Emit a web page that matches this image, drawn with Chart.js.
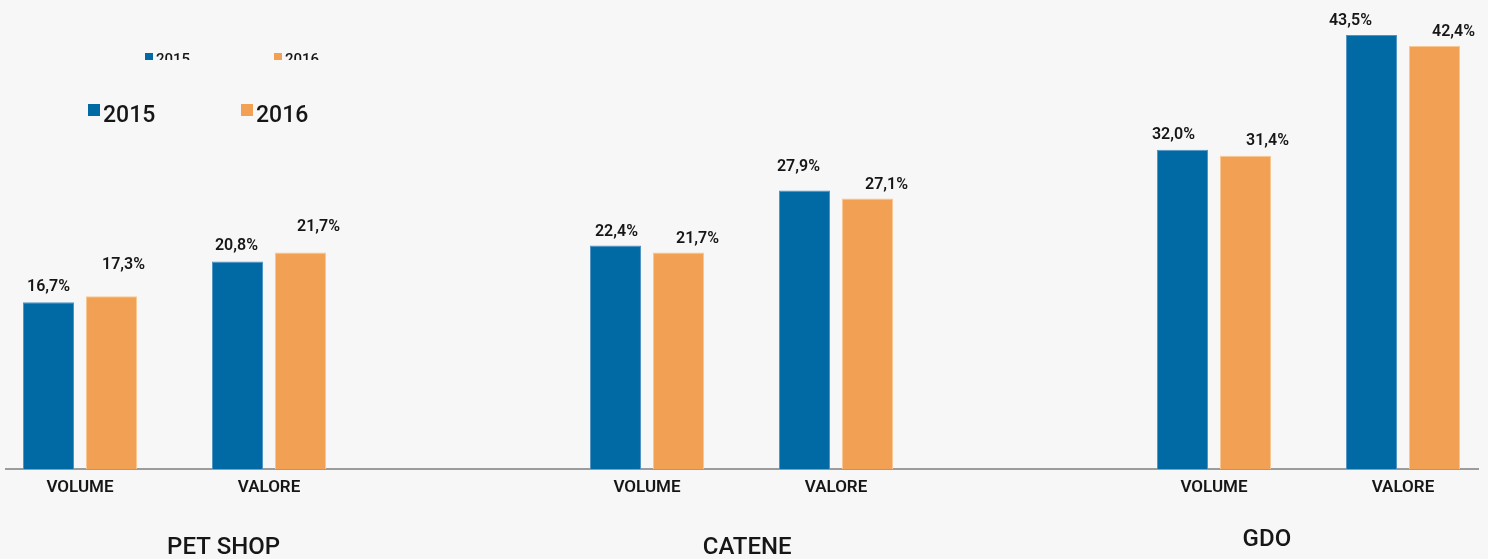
<!DOCTYPE html>
<html>
<head>
<meta charset="utf-8">
<script src="https://cdn.jsdelivr.net/npm/chart.js@4.4.1/dist/chart.umd.min.js"></script>
<style>
    html, body { margin: 0; padding: 0; background: #f7f7f7; }
    #wrap { position: relative; width: 1488px; height: 559px; }
</style>
</head>
<body>
<div id="wrap"><canvas id="chart"></canvas></div>
<script>
const groups = ['PET SHOP', 'CATENE', 'GDO'];
const subcategories = ['VOLUME', 'VALORE', 'VOLUME', 'VALORE', 'VOLUME', 'VALORE'];
// slot of each bar pair on the x axis (a blank slot separates the groups)
const slots = [0, 1, 3, 4, 6, 7];
const years = ['2015', '2016'];
const values2015 = [16.7, 20.8, 22.4, 27.9, 32.0, 43.5];
const values2016 = [17.3, 21.7, 21.7, 27.1, 31.4, 42.4];

const BLUE = '#0169a4';
const ORANGE = '#f2a154';
const TEXT = '#161616';

const fmt = v => v.toFixed(1).replace('.', ',') + '%';

// label nudges [dx, dy] from bar centre / bar top, per dataset
const labelNudge = [
    [[0, -17], [-1, -17], [1, -15], [-6, -26], [-9, -17], [-21, -16]],
    [[12, -33], [18, -27], [19, -15], [19, -16], [22, -17], [19, -16]]
];
// where each group name sits on the x scale, and its baseline below the axis
const groupAt = [0.76, 3.53, 6.28];
const groupDrop = [85, 85, 77];

const overlay = {
    id: 'overlay',
    afterDatasetsDraw(chart) {
        const ctx = chart.ctx;
        const x = chart.scales.x;
        const area = chart.chartArea;
        ctx.save();
        ctx.fillStyle = TEXT;
        ctx.textAlign = 'center';
        ctx.textBaseline = 'alphabetic';

        // value labels
        ctx.font = '600 16px Roboto';
        chart.data.datasets.forEach((ds, d) => {
            chart.getDatasetMeta(d).data.forEach((bar, i) => {
                const [dx, dy] = labelNudge[d][i];
                ctx.fillText(fmt(ds.data[i].y), bar.x + dx, bar.y + dy + 6);
            });
        });

        // group names
        ctx.font = '500 24px Roboto';
        groups.forEach((g, i) => {
            ctx.fillText(g, x.getPixelForValue(groupAt[i]), area.bottom + groupDrop[i]);
        });

        // legends (a clipped small one and a large one)
        const colors = [BLUE, ORANGE];
        ctx.textAlign = 'left';
        ctx.save();
        ctx.beginPath();
        ctx.rect(0, 0, chart.width, 60);
        ctx.clip();
        ctx.font = '500 15px Roboto';
        years.forEach((y, i) => {
            const lx = 145 + i * 129;
            ctx.fillStyle = colors[i];
            ctx.fillRect(lx, 53, 8, 8);
            ctx.fillStyle = TEXT;
            ctx.fillText(y, lx + 11, 64);
        });
        ctx.restore();

        ctx.font = '500 23px Roboto';
        years.forEach((y, i) => {
            const lx = 88 + i * 153;
            ctx.fillStyle = colors[i];
            ctx.fillRect(lx, 104, 12, 12);
            ctx.fillStyle = TEXT;
            ctx.fillText(y, lx + 15, 122);
        });
        ctx.restore();
    }
};

new Chart(document.getElementById('chart'), {
    type: 'bar',
    data: {
        datasets: [
            {
                label: years[0],
                data: values2015.map((v, i) => ({ x: slots[i], y: v })),
                backgroundColor: BLUE,
                borderColor: '#4f93c4',
                borderWidth: 1,
                borderSkipped: 'start'
            },
            {
                label: years[1],
                data: values2016.map((v, i) => ({ x: slots[i], y: v })),
                backgroundColor: ORANGE,
                borderColor: '#f8c792',
                borderWidth: 1,
                borderSkipped: 'start'
            }
        ]
    },
    options: {
        responsive: true,
        maintainAspectRatio: false,
        animation: false,
        categoryPercentage: 0.667,
        barPercentage: 0.81,
        layout: { padding: { top: 0, left: 6, right: 10, bottom: 0 } },
        plugins: {
            legend: { display: false },
            tooltip: { enabled: false }
        },
        scales: {
            x: {
                type: 'linear',
                offset: false,
                min: -0.3915,
                max: 7.397,
                grid: { display: false, drawTicks: false },
                border: { display: true, color: '#9c9c9c', width: 2 },
                afterBuildTicks: scale => {
                    scale.ticks = slots.map(v => ({ value: v }));
                },
                afterFit: scale => { scale.height = 90; },
                ticks: {
                    autoSkip: false,
                    maxRotation: 0,
                    padding: 9,
                    color: TEXT,
                    font: { family: 'Roboto', size: 17, weight: '600' },
                    callback: (value, index) => subcategories[index]
                }
            },
            y: {
                display: false,
                min: 0,
                max: 47
            }
        }
    },
    plugins: [overlay]
});
</script>
</body>
</html>
